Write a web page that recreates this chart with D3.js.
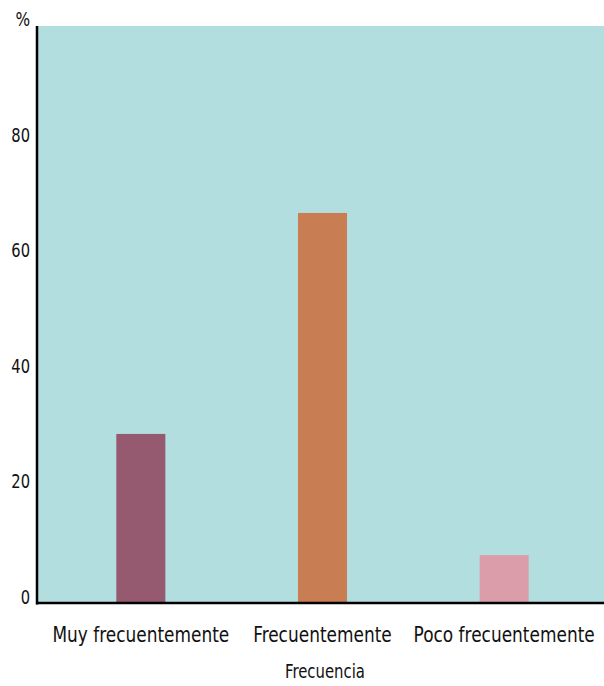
<!DOCTYPE html>
<html><head><meta charset="utf-8">
<script src="https://cdn.jsdelivr.net/npm/d3@7"></script>
<style>
html,body{margin:0;padding:0;background:#fff;}
svg{display:block;}
text{font-family:"DejaVu Sans Condensed","DejaVu Sans",sans-serif;fill:#111;}
</style></head>
<body>
<script>
const categories = ["Muy frecuentemente", "Frecuentemente", "Poco frecuentemente"];
const values = [29.3, 67.6, 8.3];
const colors = ["#955a70", "#c97d52", "#dc9dab"];
const yTicks = [0, 20, 40, 60, 80];
const yUnit = "%";
const xTitle = "Frecuencia";

const W = 604, H = 686;
const mLeft = 36, mRight = 604, mTop = 26, mBottom = 603;
const FONT = '"DejaVu Sans Condensed","DejaVu Sans",sans-serif';

const svg = d3.select("body").append("svg").attr("width", W).attr("height", H);

const y = d3.scaleLinear().domain([0, 100]).range([mBottom, mTop]);
const x = d3.scaleBand().domain(categories).range([50, 595]).paddingInner(0.73).paddingOuter(0.365);

svg.append("rect").attr("x", mLeft).attr("y", mTop).attr("width", mRight - mLeft).attr("height", mBottom - mTop).attr("fill", "#b3dedf");

svg.selectAll("rect.bar").data(values).enter().append("rect").attr("class", "bar")
  .attr("x", (d, i) => x(categories[i]))
  .attr("width", x.bandwidth())
  .attr("y", d => y(d))
  .attr("height", d => y(0) - y(d))
  .attr("fill", (d, i) => colors[i]);

// y axis
const ya = svg.append("g").attr("transform", `translate(${mLeft},0)`)
  .call(d3.axisLeft(y).tickValues(yTicks).tickSize(0).tickPadding(0));
ya.select(".domain").remove();
ya.selectAll("text").attr("font-size", 19).attr("dy", 0).attr("x", 0)
  .attr("transform", "translate(-6,0) scale(0.86,1)")
  .style("font-family", FONT).attr("fill", "#111");

svg.append("text").attr("transform", "translate(30,26) scale(0.9,1)").attr("text-anchor", "end").attr("font-size", 19).text(yUnit);

// x labels
const xa = svg.append("g").attr("transform", `translate(0,${mBottom})`)
  .call(d3.axisBottom(x).tickSize(0).tickPadding(0));
xa.select(".domain").remove();
xa.selectAll("text").attr("font-size", 20.5).attr("dy", 0).attr("y", 0)
  .attr("transform", "translate(0,39) scale(0.92,1)")
  .style("font-family", FONT).attr("fill", "#111");

svg.append("text").attr("transform", "translate(325,678) scale(0.87,1)").attr("text-anchor", "middle").attr("font-size", 19).text(xTitle);

// axis lines
svg.append("line").attr("x1", mLeft + 1).attr("x2", mLeft + 1).attr("y1", mTop).attr("y2", mBottom + 1.5).attr("stroke", "#000").attr("stroke-width", 2.5);
svg.append("line").attr("x1", mLeft).attr("x2", mRight).attr("y1", mBottom).attr("y2", mBottom).attr("stroke", "#000").attr("stroke-width", 2.5);
</script>
</body></html>
